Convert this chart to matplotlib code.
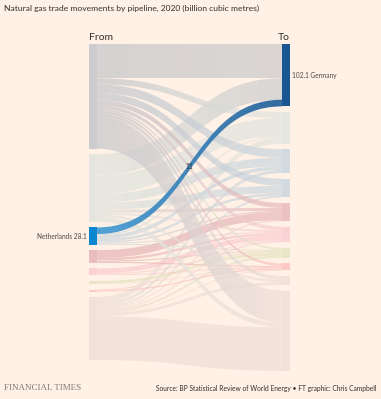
import numpy as np
import matplotlib.pyplot as plt
from matplotlib.path import Path
from matplotlib.patches import PathPatch, Rectangle
from matplotlib.colors import to_rgb

BG = "#fff1e5"

# exporters (left) and importers (right); only the highlighted pair is labelled
sources = ["Russia", "Norway", "Netherlands", "Exporter 4", "Exporter 5",
           "Exporter 6", "Exporter 7", "Rest of world"]
source_colors = ["#c4c5cb", "#dfe3dd", "#c9d6de", "#e6b3b6", "#fbcbd0",
                 "#e4e2bd", "#fcc2c0", "#efdfd7"]
targets = ["Germany", "Importer 2", "Importer 3", "Importer 4", "Importer 5",
           "Importer 6", "Importer 7", "Importer 8", "Importer 9", "Rest of world"]
target_colors = ["#cbcbcd", "#e1e5df", "#cad6df", "#cad6df", "#e9b9bc",
                 "#fbcdd2", "#e6e5c3", "#fcc2c0", "#eedfd8", "#efdfd8"]

# (source, target, bcm)
flows = [
    (0, 0, 56.1), (0, 1, 10), (0, 2, 14), (0, 3, 12), (0, 4, 8), (0, 5, 6),
    (0, 6, 3), (0, 7, 4), (0, 8, 6), (0, 9, 52),
    (1, 0, 35), (1, 1, 30), (1, 2, 14), (1, 3, 12), (1, 4, 5), (1, 5, 3),
    (1, 8, 4), (1, 9, 8),
    (2, 0, 11), (2, 1, 2), (2, 2, 6), (2, 3, 4), (2, 4, 2), (2, 5, 1.5), (2, 6, 1.6),
    (3, 4, 13), (3, 5, 4), (3, 6, 2), (3, 7, 2),
    (4, 5, 8), (4, 6, 2), (4, 7, 1.5),
    (5, 6, 4), (5, 7, 1),
    (6, 5, 1.3), (6, 7, 2),
    (7, 1, 10), (7, 2, 5), (7, 3, 3), (7, 4, 1.5), (7, 5, 2.2), (7, 6, 3.8),
    (7, 7, 1), (7, 8, 4.8), (7, 9, 71.7),
]

hl_source, hl_target = "Netherlands", "Germany"
hl_node_colors = {"Netherlands": "#0b86cf", "Germany": "#1a5792"}
hl_flow_colors = ("#4a9fd6", "#2a649c")

gap = 9.0
node_w = 0.04

fig = plt.figure(figsize=(3.81, 3.99), dpi=100, facecolor=BG)
ax = fig.add_axes([89 / 381, 1 - 371 / 399, 201 / 381, 327 / 399])
ax.set_facecolor(BG)
ax.axis("off")

src_tot = np.zeros(len(sources))
tgt_tot = np.zeros(len(targets))
for s, t, v in flows:
    src_tot[s] += v
    tgt_tot[t] += v

src_y = np.concatenate([[0], np.cumsum(src_tot + gap)[:-1]])
tgt_y = np.concatenate([[0], np.cumsum(tgt_tot + gap)[:-1]])
ymax = max(src_y[-1] + src_tot[-1], tgt_y[-1] + tgt_tot[-1])


def band(x0, x1, a0, b0, a1, b1, c0, c1, alpha, z):
    xm = (x0 + x1) / 2
    verts = [(x0, a0), (xm, a0), (xm, a1), (x1, a1),
             (x1, b1), (xm, b1), (xm, b0), (x0, b0), (x0, a0)]
    codes = [Path.MOVETO, Path.CURVE4, Path.CURVE4, Path.CURVE4,
             Path.LINETO, Path.CURVE4, Path.CURVE4, Path.CURVE4, Path.CLOSEPOLY]
    patch = PathPatch(Path(verts, codes), facecolor="none", edgecolor="none")
    ax.add_patch(patch)
    k = np.linspace(0, 1, 64)[None, :, None]
    rgb = (1 - k) * np.array(to_rgb(c0)) + k * np.array(to_rgb(c1))
    img = np.concatenate([rgb, np.full((1, 64, 1), alpha)], axis=2)
    im = ax.imshow(img, extent=(x0, x1, max(b0, b1), min(a0, a1)),
                   aspect="auto", interpolation="bilinear", zorder=z)
    im.set_clip_path(patch)


# links stack at each node in the order of the node at the other end
s_off = src_y.copy()
src_pos = {}
for s, t, v in sorted(flows, key=lambda f: (f[0], f[1])):
    src_pos[(s, t)] = s_off[s]
    s_off[s] += v

t_off = tgt_y.copy()
hl_band = None
for s, t, v in sorted(flows, key=lambda f: (f[1], f[0])):
    a0 = src_pos[(s, t)]
    a1 = t_off[t]
    t_off[t] += v
    if sources[s] == hl_source and targets[t] == hl_target:
        hl_band = (a0, a1, v)
        continue
    band(node_w, 1 - node_w, a0, a0 + v, a1, a1 + v,
         source_colors[s], target_colors[t], 0.7, 1)

a0, a1, v = hl_band
band(node_w, 1 - node_w, a0, a0 + v, a1, a1 + v,
     hl_flow_colors[0], hl_flow_colors[1], 0.95, 3)
ax.text(0.5, (a0 + a1 + v) / 2, f"{v:.0f}", ha="center", va="center",
        fontsize=4.8, color="#33302e", family="Lato", zorder=6)

for i, name in enumerate(sources):
    c = hl_node_colors.get(name, source_colors[i])
    ax.add_patch(Rectangle((0, src_y[i]), node_w, src_tot[i], facecolor=c,
                           edgecolor="none", alpha=1 if name in hl_node_colors else 0.85,
                           zorder=4))
    if name == hl_source:
        ax.text(-0.01, src_y[i] + src_tot[i] / 2, f"{name} {src_tot[i]:.1f}",
                ha="right", va="center", fontsize=4.7, color="#4d4845", family="Lato")

for i, name in enumerate(targets):
    c = hl_node_colors.get(name, target_colors[i])
    ax.add_patch(Rectangle((1 - node_w, tgt_y[i]), node_w, tgt_tot[i], facecolor=c,
                           edgecolor="none", alpha=1 if name in hl_node_colors else 0.85,
                           zorder=4))
    if name == hl_target:
        ax.text(1.01, tgt_y[i] + tgt_tot[i] / 2, f"{tgt_tot[i]:.1f} {name}",
                ha="left", va="center", fontsize=4.7, color="#4d4845", family="Lato")

ax.set_xlim(0, 1)
ax.set_ylim(ymax, 0)

ax.text(0, -3, "From", ha="left", va="bottom", fontsize=7.5, color="#33302e", family="Lato")
ax.text(1, -3, "To", ha="right", va="bottom", fontsize=7.5, color="#33302e", family="Lato")

fig.text(4 / 381, 1 - 8 / 399, "Natural gas trade movements by pipeline, 2020 (billion cubic metres)",
         ha="left", va="center", fontsize=6.1, color="#33302e", family="Lato")
fig.text(4 / 381, 1 - 388 / 399, "FINANCIAL TIMES", ha="left", va="center",
         fontsize=6.5, color="#7f7b78", family="Liberation Serif")
fig.text(377 / 381, 1 - 388 / 399,
         "Source: BP Statistical Review of World Energy \u2022 FT graphic: Chris Campbell",
         ha="right", va="center", fontsize=4.8, color="#33302e", family="Lato")

fig.savefig("out.png", dpi=100, facecolor=BG)
